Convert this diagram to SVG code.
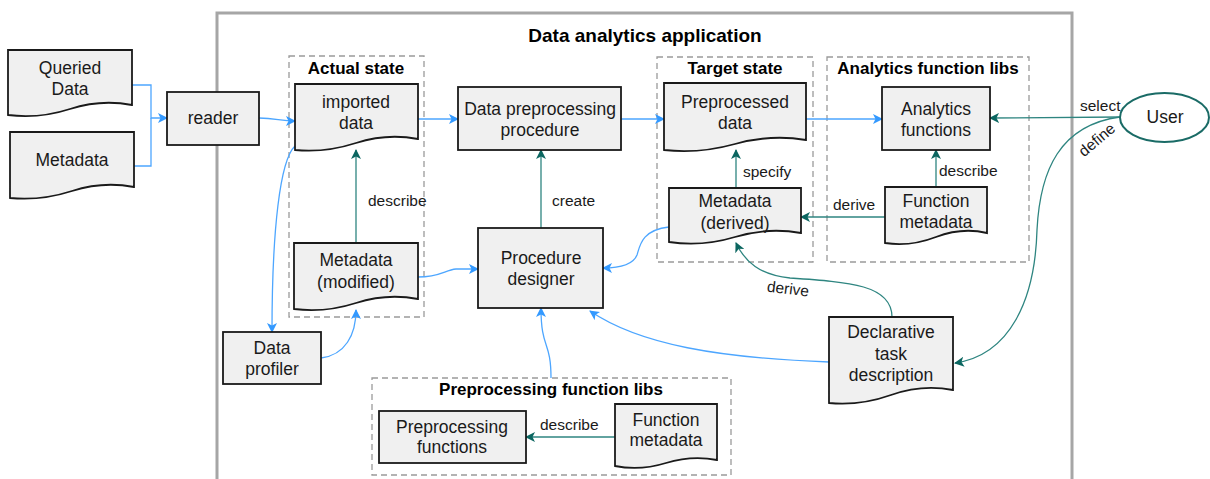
<svg xmlns="http://www.w3.org/2000/svg" width="1210" height="479" viewBox="0 0 1210 479">
<defs>
<marker id="ab" viewBox="0 0 10 10" refX="9" refY="5" markerWidth="10" markerHeight="10" markerUnits="userSpaceOnUse" orient="auto"><path d="M0,0 L10,5 L0,10 L2.5,5 Z" fill="#3399ff"/></marker>
<marker id="at" viewBox="0 0 10 10" refX="9" refY="5" markerWidth="10" markerHeight="10" markerUnits="userSpaceOnUse" orient="auto"><path d="M0,0 L10,5 L0,10 L2.5,5 Z" fill="#0b6660"/></marker>
<style>
.node{fill:#f0f0f0;stroke:#1a1a1a;stroke-width:1.8}
.t{font-family:"Liberation Sans",Arial,sans-serif;font-size:17.5px;fill:#1a1a1a;text-anchor:middle}
.h{font-family:"Liberation Sans",Arial,sans-serif;font-size:17px;font-weight:bold;fill:#000;text-anchor:middle}
.l{font-family:"Liberation Sans",Arial,sans-serif;font-size:15.5px;fill:#1a1a1a}
.grp{fill:none;stroke:#9a9a9a;stroke-width:1.3;stroke-dasharray:6,4}
.b{fill:none;stroke:#4da6ff;stroke-width:1.3;marker-end:url(#ab)}
.bn{fill:none;stroke:#4da6ff;stroke-width:1.3}
.g{fill:none;stroke:#2e8580;stroke-width:1.3;marker-end:url(#at)}
</style>
</defs>
<rect x="217" y="13" width="855" height="480" fill="none" stroke="#a6a6a6" stroke-width="3"/>
<text x="645" y="42" class="h" style="font-size:19px">Data analytics application</text>

<g id="groups">
<rect class="grp" x="289" y="56" width="135" height="261"/>
<text class="h" x="356" y="74">Actual state</text>
<rect class="grp" x="657" y="57" width="156" height="205"/>
<text class="h" x="735" y="74">Target state</text>
<rect class="grp" x="827" y="57" width="202" height="205"/>
<text class="h" x="928" y="74">Analytics function libs</text>
<rect class="grp" x="372" y="378" width="359" height="97"/>
<text class="h" x="551" y="395">Preprocessing function libs</text>
</g>

<g id="connectors">
<path class="b" d="M132,85 H151 V118 H167"/>
<path class="bn" d="M134,166 H151 V118"/>
<path class="b" d="M259,118 C276,118 280,121 295,121"/>
<path class="b" d="M418,119 H458"/>
<path class="b" d="M621,119 H664"/>
<path class="b" d="M806,119 H882"/>
<path class="b" d="M295,146 C280,160 272,230 272,332"/>
<path class="b" d="M321,358 C345,355 356,335 356,310"/>
<path class="b" d="M418,277 C440,277 445,270 456,269 L478,269"/>
<path class="b" d="M669,227 C642,230 640,245 637,255 C633,265 620,268 603,268"/>
<path class="b" d="M829,362 C720,358 640,345 590,311"/>
<path class="b" d="M551,378 C551,340 541,350 541,308"/>
<path class="g" d="M356,243 V150"/>
<path class="g" d="M541,228 V150"/>
<path class="g" d="M736,188 V150"/>
<path class="g" d="M936,187 V150"/>
<path class="g" d="M885,217 H801"/>
<path class="g" d="M1120,117 L990,118"/>
<path class="g" d="M1120,117 C1060,125 1040,170 1037,230 C1035,300 1010,355 955,363"/>
<path class="g" d="M892,317 C892,285 850,282 790,278 C760,275 745,262 736,243"/>
<path class="g" d="M615,437 H526"/>
<text class="l" x="368" y="206">describe</text>
<text class="l" x="552" y="206">create</text>
<text class="l" x="743" y="177">specify</text>
<text class="l" x="939" y="176">describe</text>
<text class="l" x="833" y="210">derive</text>
<text class="l" x="1080" y="111">select</text>
<text class="l" x="1097" y="145" text-anchor="middle" transform="rotate(-40 1097 140)">define</text>
<text class="l" x="788" y="294" text-anchor="middle" transform="rotate(7 788 289)">derive</text>
<text class="l" x="540" y="430">describe</text>
</g>

<g id="queried-data">
<path class="node" d="M8,50 H132 V105 Q101,99 70,109 T8,115 Z"/>
<text class="t" x="70" y="74">Queried</text><text class="t" x="70" y="95">Data</text>
</g>
<g id="metadata-input">
<path class="node" d="M10,132 H134 V187 Q103,181 72,191 T10,198 Z"/>
<text class="t" x="72" y="166">Metadata</text>
</g>
<g id="reader">
<rect class="node" x="167" y="92" width="92" height="53"/>
<text class="t" x="213" y="124">reader</text>
</g>
<g id="imported-data">
<path class="node" d="M295,84 H418 V139 Q387,133 356,143 T295,150 Z"/>
<text class="t" x="356" y="108">imported</text><text class="t" x="356" y="129">data</text>
</g>
<g id="metadata-modified">
<path class="node" d="M294,243 H418 V299 Q387,293 356,303 T294,309 Z"/>
<text class="t" x="356" y="266">Metadata</text><text class="t" x="356" y="288">(modified)</text>
</g>
<g id="data-profiler">
<rect class="node" x="223" y="332" width="98" height="52"/>
<text class="t" x="272" y="354">Data</text><text class="t" x="272" y="375">profiler</text>
</g>
<g id="data-preprocessing-procedure">
<rect class="node" x="458" y="87" width="163" height="63"/>
<text class="t" x="540" y="115">Data preprocessing</text><text class="t" x="540" y="136">procedure</text>
</g>
<g id="procedure-designer">
<rect class="node" x="478" y="228" width="125" height="80"/>
<text class="t" x="541" y="264">Procedure</text><text class="t" x="541" y="285">designer</text>
</g>
<g id="preprocessed-data">
<path class="node" d="M664,83 H806 V140 Q771,134 735,144 T664,150 Z"/>
<text class="t" x="735" y="108">Preprocessed</text><text class="t" x="735" y="129">data</text>
</g>
<g id="metadata-derived">
<path class="node" d="M669,188 H801 V233 Q768,227 735,237 T669,242 Z"/>
<text class="t" x="735" y="207">Metadata</text><text class="t" x="735" y="229">(derived)</text>
</g>
<g id="analytics-functions">
<rect class="node" x="882" y="87" width="108" height="63"/>
<text class="t" x="936" y="115">Analytics</text><text class="t" x="936" y="136">functions</text>
</g>
<g id="function-metadata-analytics">
<path class="node" d="M885,187 H987 V233 Q962,227 936,237 T885,243 Z"/>
<text class="t" x="936" y="207">Function</text><text class="t" x="936" y="228">metadata</text>
</g>
<g id="user">
<ellipse cx="1164.5" cy="117.5" rx="44.5" ry="24.5" fill="#fff" stroke="#1a6b66" stroke-width="2"/>
<text class="t" x="1165" y="123">User</text>
</g>
<g id="declarative-task-description">
<path class="node" d="M829,317 H953 V390 Q922,384 891,395 T829,403 Z"/>
<text class="t" x="891" y="338">Declarative</text><text class="t" x="891" y="360">task</text><text class="t" x="891" y="381">description</text>
</g>
<g id="preprocessing-functions">
<rect class="node" x="379" y="411" width="147" height="52"/>
<text class="t" x="452" y="433">Preprocessing</text><text class="t" x="452" y="453">functions</text>
</g>
<g id="function-metadata-preprocessing">
<path class="node" d="M615,404 H717 V460 Q692,455 666,463 T615,466 Z"/>
<text class="t" x="666" y="426">Function</text><text class="t" x="666" y="446">metadata</text>
</g>
</svg>
